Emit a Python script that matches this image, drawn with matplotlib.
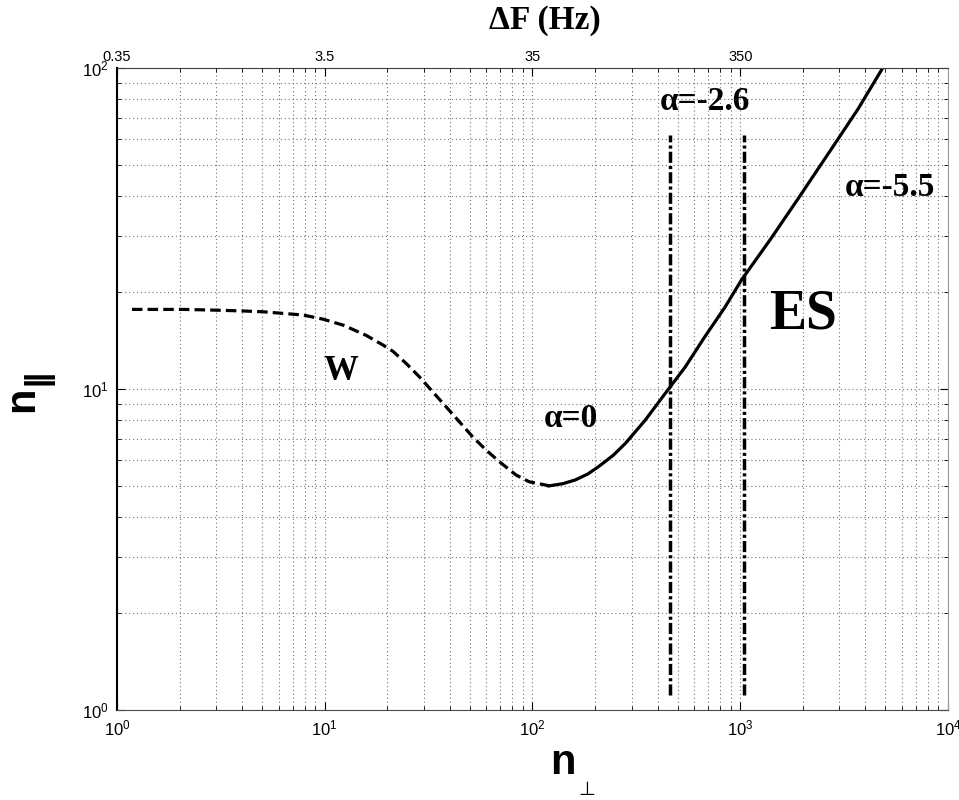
import numpy as np
import matplotlib
matplotlib.use("Agg")
import matplotlib.pyplot as plt

plt.rcParams['font.family'] = ['Liberation Sans', 'DejaVu Sans']
plt.rcParams['mathtext.default'] = 'regular'

# W branch (dashed)
w_nperp = [1.18, 1.45, 2.09, 3.02, 4.06, 5.06, 6.3, 7.87, 9.82, 12.3, 15.8, 19.1,
           21.3, 24.7, 28.6, 33.1, 38.4, 44.5, 51.5, 59.7, 69.2, 83.2, 96.4, 116, 120]
w_npar = [17.7, 17.7, 17.7, 17.6, 17.5, 17.4, 17.2, 17.0, 16.5, 15.8, 14.7, 13.7,
          13.1, 12.0, 10.9, 9.8, 8.8, 7.9, 7.1, 6.46, 5.94, 5.40, 5.14, 5.02, 4.99]

# ES branch (solid)
es_nperp = [120, 140, 161, 185, 208, 245, 280, 349, 436, 543, 678, 845, 1016, 1222,
            1415, 1901, 2750, 3690, 4850]
es_npar = [4.99, 5.07, 5.21, 5.44, 5.73, 6.22, 6.77, 8.0, 9.70, 11.7, 14.6, 18.0,
           21.9, 25.9, 29.6, 39.2, 56.0, 74.5, 100]

# alpha boundaries (dash-dot verticals)
vlines_x = [461, 1045]
vlines_y = [1.11, 61.8]

# top axis: frequency shift
df_ticks = [1, 10, 100, 1000]
df_labels = ['0.35', '3.5', '35', '350']

fig = plt.figure(figsize=(9.59, 8.0), dpi=100)
ax = fig.add_axes([0.122, 0.1125, 0.8665, 0.8025])
ax.set_xscale('log')
ax.set_yscale('log')
ax.set_xlim(1, 1e4)
ax.set_ylim(1, 100)

ax.grid(True, which='both', ls=(0, (1, 2.5)), color='0.45', lw=0.8)
ax.set_axisbelow(True)

ax.plot(w_nperp, w_npar, color='k', lw=2.3, ls=(0, (3.3, 1.6)))
ax.plot(es_nperp, es_npar, color='k', lw=2.3)
for xv in vlines_x:
    ax.plot([xv, xv], vlines_y, color='k', lw=2.5, ls=(0, (3.2, 0.9, 0.9, 0.9)))

ax.tick_params(which='both', direction='in', top=False, right=True,
               labelsize=12, pad=6)
ax.tick_params(which='major', length=6)
ax.tick_params(which='minor', length=3)

ax.spines['left'].set_linewidth(1.5)
ax.spines['left'].set_color('k')
ax.spines['bottom'].set_color('0.3')
ax.spines['top'].set_color('0.25')
ax.spines['right'].set_color('0.6')
ax.spines['right'].set_linewidth(0.8)

top = ax.twiny()
top.set_xscale('log')
top.set_xlim(ax.get_xlim())
top.set_xticks(df_ticks)
top.set_xticklabels(df_labels)
top.tick_params(which='both', direction='in', labelsize=10.5, pad=3)
top.tick_params(which='major', length=6)
top.tick_params(which='minor', length=3)
for s in top.spines.values():
    s.set_visible(False)

serif = ['Liberation Serif', 'DejaVu Serif']
txt = dict(fontfamily=serif, fontweight='bold', ha='center', va='center')
ax.text(12.0, 11.3, 'W', fontsize=25, **txt)
ax.text(153, 8.07, 'α=0', fontsize=24, **txt)
ax.text(680, 78.9, 'α=-2.6', fontsize=24, **txt)
ax.text(5250, 42.3, 'α=-5.5', fontsize=24, **txt)
ax.text(2010, 17.1, 'ES', fontsize=40, **txt)

fig.text(545 / 959, 1 - 21 / 800, 'ΔF (Hz)', fontfamily=serif, fontweight='bold',
         fontsize=24, ha='center', va='center')

# x label: n with perpendicular subscript
fig.text(562.5 / 959, 1 - 774 / 800, 'n', fontsize=30, fontweight='bold',
         ha='center', va='baseline')
fig.text(586.5 / 959, 1 - 795 / 800, '⊥', fontsize=14, fontfamily=['DejaVu Sans'],
         ha='center', va='baseline')

# y label: n with parallel subscript, rotated
fig.text(33 / 959, 1 - 399 / 800, 'n', fontsize=30, fontweight='bold',
         ha='center', va='baseline', rotation=90, rotation_mode='anchor')
for yb in [374.5, 380.5]:
    fig.text(46 / 959, 1 - yb / 800, '|', fontsize=24, fontweight='bold',
             ha='center', va='baseline', rotation=90, rotation_mode='anchor')

fig.savefig('out.png', dpi=100)
